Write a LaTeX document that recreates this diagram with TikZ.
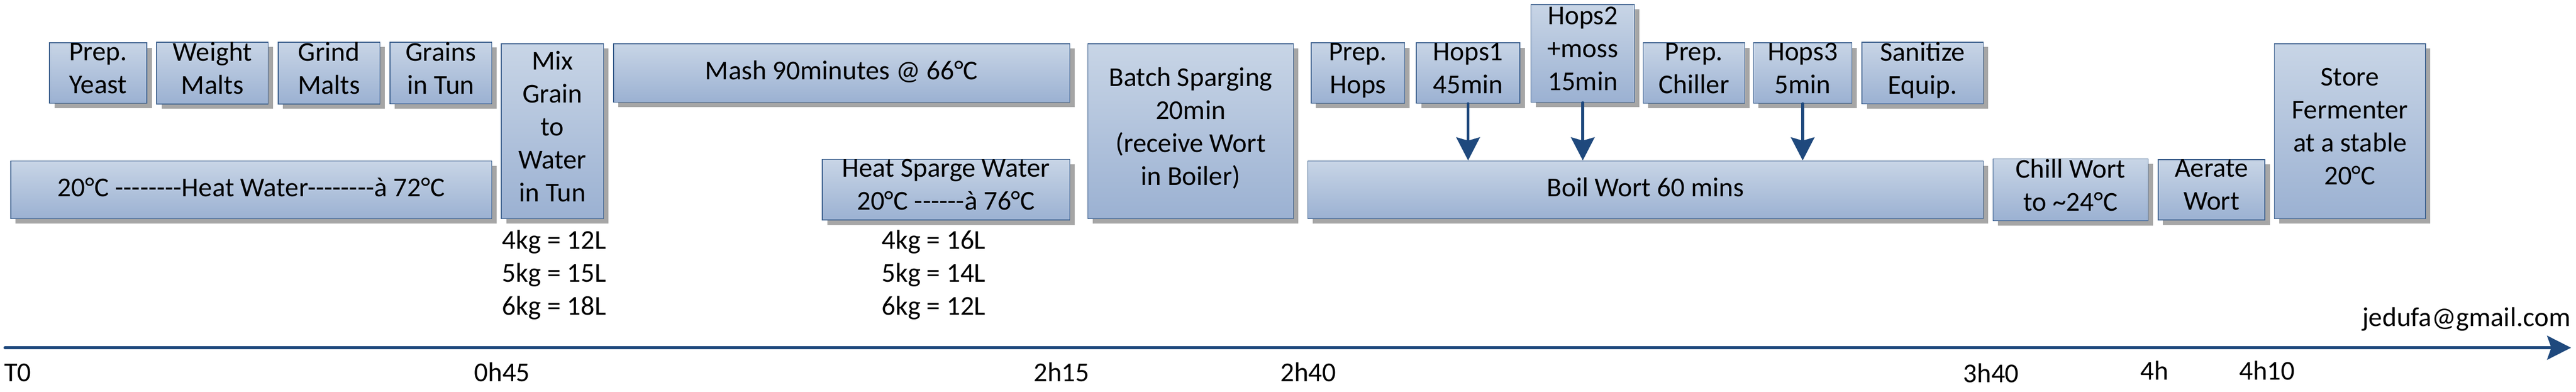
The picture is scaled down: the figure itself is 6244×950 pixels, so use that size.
\documentclass[tikz,border=0pt]{standalone}
\usepackage{fontspec}
\setmainfont{Carlito}[Ligatures=TeXOff]
\usetikzlibrary{arrows.meta,shadows}
\definecolor{boxtop}{RGB}{200,213,230}
\definecolor{boxbot}{RGB}{155,177,210}
\definecolor{boxline}{RGB}{58,94,140}
\definecolor{shadowgray}{RGB}{166,166,166}
\definecolor{axisblue}{RGB}{31,73,125}
\begin{document}
\begin{tikzpicture}[x=1pt,y=-1pt,
  taskbox/.style={draw=boxline, line width=2pt, top color=boxtop, bottom color=boxbot,
    inner sep=0pt, align=center, font=\fontsize{66}{80}\selectfont,
    execute at begin node=\strut, execute at end node=\strut,
    drop shadow={shadow xshift=12pt, shadow yshift=-12pt, fill=shadowgray, opacity=1}},
  plaintext/.style={inner sep=0pt, align=center, font=\fontsize{66}{80}\selectfont},
  tlabel/.style={inner sep=0pt, anchor=base, font=\fontsize{66}{80}\selectfont},
  hoparrow/.style={draw=axisblue, line width=7pt, line cap=round,
    -{Stealth[length=56pt, width=57pt, inset=8pt]}},
  axisline/.style={draw=axisblue, line width=7pt, line cap=round,
    -{Stealth[length=58pt, width=58pt, inset=10pt]}}
]
\useasboundingbox (0,0) rectangle (6244,950);

% top row
\node[taskbox, minimum width=236pt, minimum height=142pt] (yeast) at (238,177) {Prep.\\Yeast};
\node[taskbox, minimum width=270pt, minimum height=142pt] (weight) at (515,177) {Weight\\Malts};
\node[taskbox, minimum width=247pt, minimum height=142pt] (grind) at (797.5,177) {Grind\\Malts};
\node[taskbox, minimum width=247pt, minimum height=142pt] (grains) at (1068.5,177) {Grains\\in Tun};
\node[taskbox, minimum width=248pt, minimum height=424pt] (mix) at (1339,318) {Mix\\Grain\\to\\Water\\in Tun};
\node[taskbox, minimum width=1166pt, minimum height=140pt] (heat) at (609,460) {20°C --------Heat Water--------à 72°C};
\node[taskbox, minimum width=1106pt, minimum height=142pt] (mash) at (2040,177) {Mash 90minutes @ 66°C};
\node[taskbox, minimum width=600pt, minimum height=140pt] (sparge) at (2293,460) {Heat Sparge Water\\20°C ------à 76°C};
\node[taskbox, minimum width=498pt, minimum height=424pt] (batch) at (2886,318) {Batch Sparging\\20min\\(receive Wort\\in Boiler)};
\node[taskbox, minimum width=227pt, minimum height=142pt] (prephops) at (3291.5,177) {Prep.\\Hops};
\node[taskbox, minimum width=251pt, minimum height=142pt] (hopsa) at (3558.5,177) {Hops1\\45min};
\node[taskbox, minimum width=251pt, minimum height=237pt] (hopsb) at (3836.5,129.5) {Hops2\\+moss\\15min};
\node[taskbox, minimum width=246pt, minimum height=142pt] (chiller) at (4106,177) {Prep.\\Chiller};
\node[taskbox, minimum width=239pt, minimum height=142pt] (hopsc) at (4369.5,177) {Hops3\\5min};
\node[taskbox, minimum width=294pt, minimum height=142pt] (sanitize) at (4660,177) {Sanitize\\Equip.};
\node[taskbox, minimum width=1637pt, minimum height=140pt] (boil) at (3988.5,460) {Boil Wort 60 mins};
\node[taskbox, minimum width=376pt, minimum height=141pt] (chill) at (5019,460) {Chill Wort\\to \textasciitilde 24°C};
\node[taskbox, minimum width=259pt, minimum height=141pt] (aerate) at (5360.5,460) {Aerate\\Wort};
\node[taskbox, minimum width=366pt, minimum height=424pt] (store) at (5696,318) {Store\\Fermenter\\at a stable\\20°C};

% volume notes
\node[plaintext] (mixvol) at (1343,667) {4kg = 12L\\5kg = 15L\\6kg = 18L};
\node[plaintext] (spargevol) at (2263,667) {4kg = 16L\\5kg = 14L\\6kg = 12L};

% hop additions
\draw[hoparrow] (hopsa.south) -- (hopsa.south |- boil.north);
\draw[hoparrow] (hopsb.south) -- (hopsb.south |- boil.north);
\draw[hoparrow] (hopsc.south) -- (hopsc.south |- boil.north);

% time axis
\coordinate (axs) at (12,843);
\coordinate (axe) at (6232,843);
\draw[axisline] (axs) -- (axe);
\node[tlabel, anchor=base west] (t0) at (10,925) {T0};
\node[tlabel] (t045) at (1217,925) {0h45};
\node[tlabel] (t215) at (2573,925) {2h15};
\node[tlabel] (t240) at (3171,925) {2h40};
\node[tlabel] (t340) at (4826,927) {3h40};
\node[tlabel] (t4) at (5222,921) {4h};
\node[tlabel] (t410) at (5495,921) {4h10};
\node[tlabel, anchor=base east] (mail) at (6231,791) {jedufa@gmail.com};
\end{tikzpicture}
\end{document}
